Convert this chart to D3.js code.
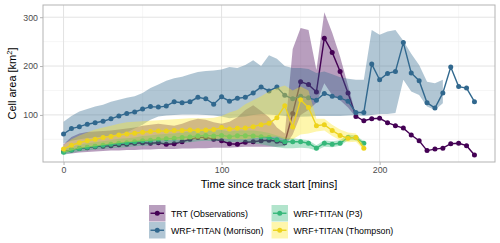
<!DOCTYPE html>
<html>
<head>
<meta charset="utf-8">
<script src="https://cdn.jsdelivr.net/npm/d3@7"></script>
<style>
  body { margin: 0; background: #fff; }
  text { font-family: "Liberation Sans", Arial, sans-serif; }
</style>
</head>
<body>
<div id="main"></div>
<script>
// time steps in minutes since track start
let times = [0,5,10,15,20,25,30,35,40,45,50,55,60,65,70,75,80,85,90,95,100,105,110,115,120,125,
  130,135,140,145,150,155,160,165,170,175,180,185,190,195,200,205,210,215,220,225,230,235,240,245,250,255,260];

// TRT (Observations)
let trtMean = [25,28,31,33,35,36,37,39,40,42,43,42,43,40,41,45,50,54,54,50,47,41,40,44,45,47,
  48,46,43,103,168,162,147,257,228,189,145,97,88,92,93,84,78,73,59,47,27,30,32,41,42,37,18];
let trtLow = [20,21,23,24,25,26,27,27,28,28,29,29,30,30,30,31,31,32,32,33,33,33,34,35,35,35,
  35,35,36,60,100,110,125,165,140,130,115,95];
let trtHigh = [40,55,62,65,66,67,68,70,72,74,78,80,82,80,78,82,88,92,90,85,82,86,95,110,120,108,
  95,74,62,235,278,274,192,310,268,219,160,100];

// WRF+TITAN (Morrison)
let morMean = [61,72,76,81,84,87,92,98,103,106,112,117,116,118,127,125,127,136,133,122,137,128,134,136,145,157,
  149,157,140,133,138,135,130,144,138,135,128,105,105,204,172,185,189,248,186,170,125,114,145,198,158,155,127];
let morLow = [42,47,50,52,54,56,58,61,64,72,80,90,97,99,100,101,101,101,100,99,97,93,95,97,100,102,
  101,100,98,96,96,97,98,98,98,98,99,100,98,100,102,102,104,172,148,141,117,110,124];
let morHigh = [86,98,107,112,117,121,127,131,135,138,145,155,162,170,175,178,183,188,190,191,193,198,196,202,212,200,
  222,215,200,196,196,194,186,189,183,177,174,172,172,274,264,271,274,252,225,202,168,165,172];

// WRF+TITAN (P3)
let p3Mean = [23.5,28,31,34,36,38,40,42,43,45,47,48,50,51,52,54,55,57,58,57,58,55.5,57.5,57.5,57,55.5,
  54,49,45,45,45,42,32,42,40,42,54,53,42];
let p3Low = [18,22,25,27,29,30,32,33,34,36,37,38,40,41,42,43,44,46,47,46,47,44,45,44,42,40,
  37,34,32,32,33,32,27,35,34,37,48,48,38];
let p3High = [30,35,39,42,44,46,48,51,52,54,57,58,60,61,62,64,66,68,69,68,69,66,68,68,68,66,
  63,58,54,52,50,48,38,48,46,48,60,58,46];

// WRF+TITAN (Thompson)
let thMean = [30,38,43,47,50,54,56,59,61,62.5,64.5,66,67,67,68,68,69,68,69,70,74,71,72.5,73,76,80,
  83,94,119,75,131,115,78,80,68,58,52,54,32];
let thLow = [22,27,31,34,36,38,40,42,44,45,46,47,48,48,49,49,50,50,50,50,52,50,50,50,52,54,
  55,56,50,50,60,62,66,68,57,48,44,45,28];
let thHigh = [38,50,58,64,70,74,78,82,85,86,87,88,89,90,91,92,93,93,93,94,98,105,110,122,130,138,
  148,155,160,150,158,150,92,92,80,70,64,62,38];

let seriesNames = ["TRT (Observations)", "WRF+TITAN (Morrison)", "WRF+TITAN (P3)", "WRF+TITAN (Thompson)"];
let seriesColors = ["#440154", "#31688E", "#35B779", "#EDD31C"];
let ribbonColors = ["#440154", "#31688E", "#35B779", "#FDE725"];

let xTicks = [0, 100, 200];
let yTicks = [100, 200, 300];

const series = [
  {mean: trtMean, low: trtLow, high: trtHigh},
  {mean: morMean, low: morLow, high: morHigh},
  {mean: p3Mean, low: p3Low, high: p3High},
  {mean: thMean, low: thLow, high: thHigh}
].map((s, i) => ({
  name: seriesNames[i],
  color: seriesColors[i],
  fill: ribbonColors[i],
  points: s.mean.map((v, j) => ({t: times[j], v: v})),
  band: s.low.map((v, j) => ({t: times[j], lo: v, hi: s.high[j]}))
}));

let W = 500, H = 243;
let panel = {left: 43, right: 495, top: 5, bottom: 162};

let x = d3.scaleLinear().domain([-13, 273]).range([panel.left, panel.right]);
let y = d3.scaleLinear().domain([3.6, 325]).range([panel.bottom, panel.top]);

let svg = d3.select("#main").append("svg")
  .attr("width", W).attr("height", H);

// grid
let grid = svg.append("g");
grid.selectAll(".xminor").data([50, 150, 250]).enter().append("line")
  .attr("x1", d => x(d)).attr("x2", d => x(d))
  .attr("y1", panel.top).attr("y2", panel.bottom)
  .attr("stroke", "#F0F0F0").attr("stroke-width", 0.6);
grid.selectAll(".yminor").data([50, 150, 250]).enter().append("line")
  .attr("y1", d => y(d)).attr("y2", d => y(d))
  .attr("x1", panel.left).attr("x2", panel.right)
  .attr("stroke", "#F0F0F0").attr("stroke-width", 0.6);
grid.selectAll(".xmajor").data(xTicks).enter().append("line")
  .attr("x1", d => x(d)).attr("x2", d => x(d))
  .attr("y1", panel.top).attr("y2", panel.bottom)
  .attr("stroke", "#E3E3E3").attr("stroke-width", 1);
grid.selectAll(".ymajor").data(yTicks).enter().append("line")
  .attr("y1", d => y(d)).attr("y2", d => y(d))
  .attr("x1", panel.left).attr("x2", panel.right)
  .attr("stroke", "#E3E3E3").attr("stroke-width", 1);

let area = d3.area().x(d => x(d.t)).y0(d => y(d.lo)).y1(d => y(d.hi));
let line = d3.line().x(d => x(d.t)).y(d => y(d.v));

// one layer group per series: ribbon, line, points
series.forEach(s => {
  let g = svg.append("g");
  g.append("path").datum(s.band)
    .attr("d", area)
    .attr("fill", s.fill).attr("fill-opacity", 0.38);
  g.append("path").datum(s.points)
    .attr("d", line)
    .attr("fill", "none").attr("stroke", s.color).attr("stroke-width", 1.4);
  g.selectAll("circle").data(s.points).enter().append("circle")
    .attr("cx", d => x(d.t)).attr("cy", d => y(d.v))
    .attr("r", 2.5).attr("fill", s.color);
});

// panel border
svg.append("rect")
  .attr("x", panel.left).attr("y", panel.top)
  .attr("width", panel.right - panel.left).attr("height", panel.bottom - panel.top)
  .attr("fill", "none").attr("stroke", "#B3B3B3").attr("stroke-width", 1);

// axes
let xAxis = svg.append("g")
  .attr("transform", `translate(0,${panel.bottom})`)
  .call(d3.axisBottom(x).tickValues(xTicks).tickSize(3).tickPadding(2));
let yAxis = svg.append("g")
  .attr("transform", `translate(${panel.left},0)`)
  .call(d3.axisLeft(y).tickValues(yTicks).tickSize(3).tickPadding(2));
[xAxis, yAxis].forEach(a => {
  a.select(".domain").remove();
  a.selectAll(".tick line").attr("stroke", "#B3B3B3");
  a.selectAll(".tick text").attr("fill", "#4D4D4D")
    .style("font-size", "8.8px").style("font-family", "Liberation Sans, Arial, sans-serif");
});

// axis titles
svg.append("text")
  .attr("x", (panel.left + panel.right) / 2).attr("y", 188)
  .attr("text-anchor", "middle").style("font-size", "11px")
  .text("Time since track start [mins]");
let yt = svg.append("text")
  .attr("transform", `translate(16,${(panel.top + panel.bottom) / 2}) rotate(-90)`)
  .attr("text-anchor", "middle").style("font-size", "11px");
yt.append("tspan").text("Cell area [km");
yt.append("tspan").attr("dy", -4).style("font-size", "7.5px").text("2");
yt.append("tspan").attr("dy", 4).text("]");

// legend
let colX = [149, 271.5];
let rowY = [205, 222];
let order = [[0, 0, 0], [1, 0, 1], [2, 1, 0], [3, 1, 1]];
let legend = svg.append("g");
order.forEach(([i, c, r]) => {
  let s = series[i];
  let g = legend.append("g").attr("transform", `translate(${colX[c]},${rowY[r]})`);
  g.append("rect").attr("width", 16.5).attr("height", 16.5)
    .attr("fill", s.fill).attr("fill-opacity", 0.38);
  g.append("line").attr("x1", 1.5).attr("x2", 15).attr("y1", 8.25).attr("y2", 8.25)
    .attr("stroke", s.color).attr("stroke-width", 1.4);
  g.append("circle").attr("cx", 8.25).attr("cy", 8.25).attr("r", 2.5).attr("fill", s.color);
  g.append("text").attr("x", 22).attr("y", 11.5)
    .style("font-size", "8.8px").text(s.name);
});
</script>
</body>
</html>
